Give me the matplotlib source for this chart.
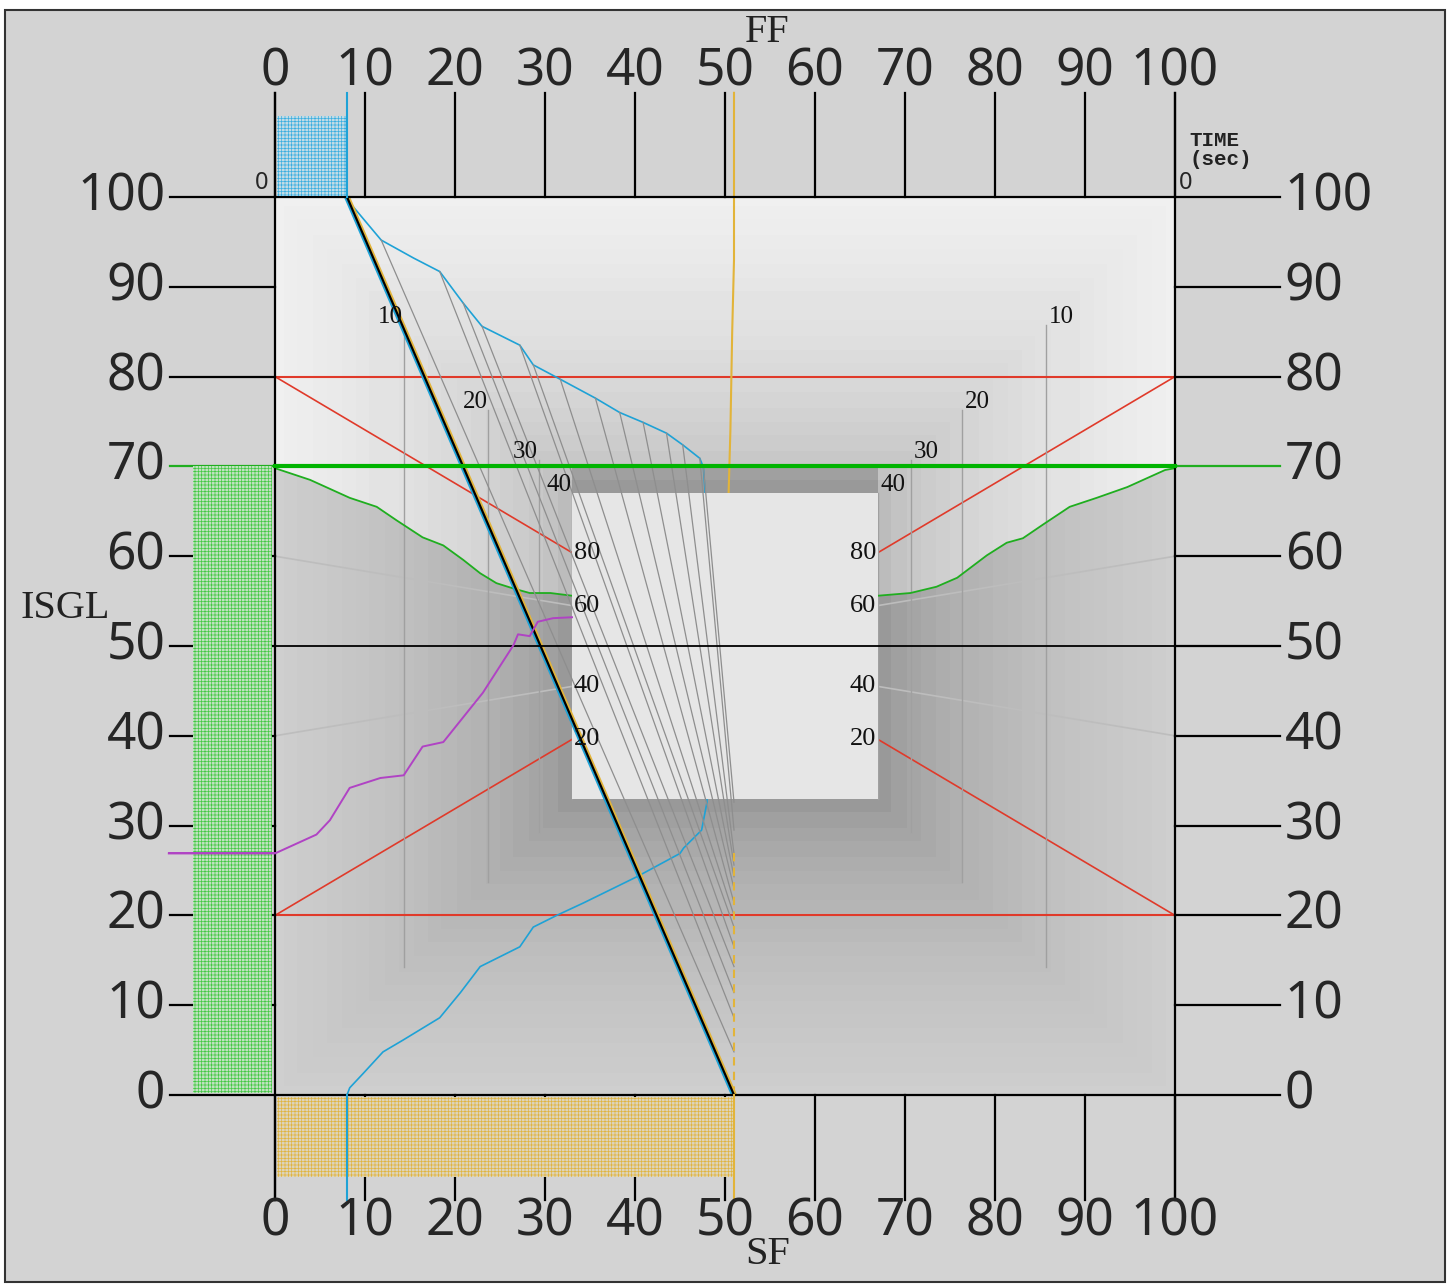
import numpy as np
import matplotlib.pyplot as plt
import matplotlib.patheffects as pe
from matplotlib.patches import Rectangle, Polygon

plt.rcParams['hatch.linewidth'] = 0.5

# axis ticks (same scale on all four sides)
ticks = list(range(0, 101, 10))

# FF trajectory (upper blue curve)
ff_x = [8, 8.7, 11.8, 15.4, 18.3, 20.9, 23.0, 27.2, 28.7, 31.7, 35.6, 38.3, 40.9, 43.5, 45.3, 47.2, 47.6, 47.8, 47.8]
ff_y = [100, 98.9, 95.2, 93.2, 91.7, 88.2, 85.6, 83.5, 81.3, 79.7, 77.6, 76.0, 74.9, 73.7, 72.4, 70.9, 69.9, 67.0, 50]

# SF trajectory (lower blue curve)
sf_x = [8, 8.3, 9.8, 12.0, 14.2, 18.3, 20.6, 22.8, 27.2, 28.7, 31.3, 34.3, 40.2, 45.0, 45.4, 47.4, 48.0, 47.8]
sf_y = [0, 0.8, 2.4, 4.8, 6.1, 8.6, 11.4, 14.3, 16.5, 18.7, 20.0, 21.4, 24.3, 26.9, 27.5, 29.5, 32.6, 50]

# grey iso lines: from FF curve point down to the SF end line
iso_x0 = [11.8, 18.3, 20.9, 23.0, 27.2, 28.7, 31.7, 35.6, 38.3, 40.9, 43.5, 45.3, 47.2, 47.6]
iso_y0 = [95.2, 91.7, 88.2, 85.6, 83.5, 81.3, 79.7, 77.6, 76.0, 74.9, 73.7, 72.4, 70.9, 69.9]
iso_y1 = [4.8, 8.6, 11.4, 14.3, 16.5, 18.7, 20.0, 21.4, 23.0, 24.3, 25.6, 26.9, 29.5, 32.6]

# start / end values
ff_start = 8
sf_end = 51
isgl_start = 70
isgl_mid = 50

# yellow FF marker drifting down to the box
yel_x = [51, 51, 50.8, 50.6, 50.4]
yel_y = [111.6, 93, 85, 74, 67]

# green ISGL curve (left and right halves)
green_lx = [0, 3.9, 8.3, 11.3, 13.5, 16.4, 18.7, 20.9, 22.8, 24.6, 26.5, 28.3, 30.6, 33]
green_ly = [69.8, 68.5, 66.5, 65.5, 64, 62.1, 61.2, 59.6, 58.1, 57, 56.4, 55.9, 55.9, 55.6]
green_rx = [67, 70.6, 73.5, 75.8, 79.1, 81.3, 83.1, 85.3, 88.3, 91.3, 94.7, 98.9, 100]
green_ry = [55.6, 55.9, 56.6, 57.6, 60.1, 61.5, 62, 63.5, 65.5, 66.5, 67.7, 69.6, 69.8]

# magenta curve
mag_x = [-11.8, 0, 4.6, 6.1, 8.3, 11.7, 14.3, 16.4, 18.7, 23.1, 26.5, 27, 28.3, 29.2, 30.9, 33]
mag_y = [26.9, 26.9, 29, 30.6, 34.2, 35.3, 35.6, 38.8, 39.3, 44.8, 50.1, 51.3, 51.1, 52.7, 53.1, 53.2]

# converging target lines
fan_levels = [80, 60, 40, 20]
fan_inner = [60.4, 54.5, 45.5, 39.6]
fan_colors = ['#e03a2a', '#bdbdbd', '#bdbdbd', '#e03a2a']

# time markers
time_labels = ['10', '20', '30', '40']
time_dist = [14.3, 23.7, 29.3, 33]

box_lo, box_hi = 33, 67

blue = '#1ea2d6'
yellow = '#e2b43a'
green = '#1fae1f'
red = '#e03a2a'
magenta = '#b043c4'

big_font = dict(family=['Noto Sans', 'DejaVu Sans'], fontstretch='extra-condensed', fontweight='light',
                fontsize=37, color='#262626')
serif_font = ['Liberation Serif', 'DejaVu Serif']

fig = plt.figure(figsize=(14.53, 12.84), dpi=100)
fig.patch.set_facecolor('white')
ax = fig.add_axes([0, 0, 1, 1])
ax.set_xlim(-275 / 9, 1178 / 9)
ax.set_ylim(-189 / 8.98, 1095 / 8.98)
ax.axis('off')

# outer grey panel
ax.add_patch(Rectangle((5 / 1453, 2 / 1284), 1440 / 1453, 1272 / 1284, transform=ax.transAxes,
                       facecolor='#d3d3d3', edgecolor='#333333', lw=1.5, zorder=0))

# shaded background, banded by distance to the centre box
res = 0.25
g = np.arange(0, 100, res) + res / 2
X, Y = np.meshgrid(g, g)
ddx = np.maximum(np.maximum(box_lo - X, X - box_hi), 0)
ddy = np.maximum(np.maximum(box_lo - Y, Y - box_hi), 0)
dist = np.maximum(ddx, ddy)
dist = (np.floor(dist / 1.6) + 0.5) * 1.6 / 33
dark = 0.56 + 0.25 * np.sqrt(dist)
light = 0.70 + 0.24 * np.sqrt(dist)
ax.imshow(dark, cmap='gray', vmin=0, vmax=1, origin='lower', extent=[0, 100, 0, 100],
          aspect='auto', interpolation='nearest', zorder=1)
light_poly = [(0, 100)] + list(zip(green_lx, green_ly)) + [(box_lo, isgl_start), (box_hi, isgl_start)] \
    + list(zip(green_rx, green_ry)) + [(100, 100)]
clip = Polygon(light_poly, closed=True, transform=ax.transData, facecolor='none', edgecolor='none')
ax.add_patch(clip)
im = ax.imshow(light, cmap='gray', vmin=0, vmax=1, origin='lower', extent=[0, 100, 0, 100],
               aspect='auto', interpolation='nearest', zorder=1.1)
im.set_clip_path(clip)

# converging lines on both sides
for lev, inner, c in zip(fan_levels, fan_inner, fan_colors):
    ax.plot([0, box_lo], [lev, inner], color=c, lw=1.2, zorder=2)
    ax.plot([100, box_hi], [lev, inner], color=c, lw=1.2, zorder=2)
    ax.text(box_lo + 0.2, inner, str(lev), ha='left', va='center', fontsize=19,
            family=serif_font, color='#111111', zorder=6)
    ax.text(box_hi - 0.2, inner, str(lev), ha='right', va='center', fontsize=19,
            family=serif_font, color='#111111', zorder=6)

# time markers
for lab, dd in zip(time_labels, time_dist):
    for xx, ha, off in [(dd, 'right', -0.1), (100 - dd, 'left', 0.3)]:
        ax.plot([xx, xx], [dd, 100 - dd], color='#a0a0a0', lw=1.0, zorder=2)
        ax.text(xx + off, 100 - dd + 0.9, lab, ha=ha, va='center', fontsize=18,
                family=serif_font, color='#111111', zorder=6)

ax.plot([0, 100], [80, 80], color=red, lw=1.5, zorder=2)
ax.plot([0, 100], [20, 20], color=red, lw=1.5, zorder=2)
ax.plot(green_lx, green_ly, color=green, lw=1.3, zorder=2)
ax.plot(green_rx, green_ry, color=green, lw=1.3, zorder=2)
ax.plot(mag_x, mag_y, color=magenta, lw=1.4, zorder=5.5)
ax.plot(ff_x, ff_y, color=blue, lw=1.2, zorder=2.2)
ax.plot(sf_x, sf_y, color=blue, lw=1.2, zorder=2.2)
ax.plot(yel_x, yel_y, color=yellow, lw=1.5, zorder=2.2)

# centre box
ax.add_patch(Rectangle((box_lo, box_lo), box_hi - box_lo, box_hi - box_lo,
                       facecolor='#e6e6e6', edgecolor='none', zorder=3))

# iso lines and main FF->SF diagonal
for x0, y0, y1 in zip(iso_x0, iso_y0, iso_y1):
    ax.plot([x0, sf_end], [y0, y1], color='#8e8e8e', lw=0.9, zorder=4)
ax.plot([sf_end, sf_end], [iso_y1[-3], 0], color=yellow, lw=1.5, ls=(0, (4, 3)), zorder=4.1)
ax.plot([ff_start, sf_end], [100, 0], color='black', lw=1.6, zorder=4.5,
        path_effects=[pe.Stroke(offset=(-1.4, 0), linewidth=1.6, foreground=blue),
                      pe.Stroke(offset=(1.4, 0), linewidth=1.6, foreground=yellow),
                      pe.Normal()])

# frame lines and ticks
lw_ax = 1.6
for t in ticks:
    ax.plot([t, t], [100, 111.6], color='black', lw=lw_ax, zorder=5)
    ax.plot([t, t], [-11.7, 0], color='black', lw=lw_ax, zorder=5)
    ax.text(t, 113.9, str(t), ha='center', va='center', zorder=6, **big_font)
    ax.text(t, -14.1, str(t), ha='center', va='center', zorder=6, **big_font)
    tc = green if t == isgl_start else 'black'
    ax.plot([-11.7, 0], [t, t], color=tc, lw=lw_ax, zorder=5)
    ax.plot([100, 111.7], [t, t], color=tc, lw=lw_ax, zorder=5)
    ax.text(-12.2, t, str(t), ha='right', va='center', zorder=6, **big_font)
    ax.text(112.2, t, str(t), ha='left', va='center', zorder=6, **big_font)

ax.plot([0, 0], [-11.7, 111.6], color='black', lw=lw_ax, zorder=5)
ax.plot([100, 100], [-11.7, 111.6], color='black', lw=lw_ax, zorder=5)
ax.plot([0, 100], [100, 100], color='black', lw=lw_ax, zorder=5)
ax.plot([0, 100], [0, 0], color='black', lw=lw_ax, zorder=5)
ax.plot([-11.7, 111.7], [isgl_mid, isgl_mid], color='black', lw=1.3, zorder=4.6)
ax.plot([0, 100], [isgl_start, isgl_start], color='#00b400', lw=3, zorder=5)

# hatched bars
ax.add_patch(Rectangle((0.2, 100.1), ff_start - 0.2, 8.9, facecolor='#c2dce6', edgecolor='#3aaee0',
                       hatch='+' * 5, lw=0, zorder=5.2))
ax.add_patch(Rectangle((0.2, -9.1), sf_end - 0.2, 8.9, facecolor='#ddd5bb', edgecolor='#e0b440',
                       hatch='+' * 5, lw=0, zorder=5.2))
ax.add_patch(Rectangle((-9.1, 0.2), 8.8, isgl_start - 0.2, facecolor='#c0e2c0', edgecolor='#44c844',
                       hatch='+' * 5, lw=0, zorder=5.2))
ax.plot(mag_x[:2], mag_y[:2], color=magenta, lw=1.4, zorder=5.6)

# blue and yellow marker ticks
ax.plot([ff_start, ff_start], [100, 111.6], color=blue, lw=1.5, zorder=5.3)
ax.plot([ff_start, ff_start], [-11.7, 0], color=blue, lw=1.5, zorder=5.3)
ax.plot([sf_end, sf_end], [-11.7, 0], color=yellow, lw=1.5, zorder=5.3)

# titles
ax.text(54.7, 118.3, 'FF', ha='center', va='center', fontsize=29, family=serif_font, color='#222222')
ax.text(54.7, -17.8, 'SF', ha='center', va='center', fontsize=29, family=serif_font, color='#222222')
ax.text(-23.3, 54.2, 'ISGL', ha='center', va='center', fontsize=29, family=serif_font, color='#222222')
ax.text(101.6, 105.2, 'TIME\n(sec)', ha='left', va='center', fontsize=15, family=['Liberation Mono'],
        fontweight='bold', linespacing=1.0, color='#222222')
small_zero = dict(big_font, fontsize=17)
ax.text(-0.7, 100.2, '0', ha='right', va='bottom', **small_zero)
ax.text(100.4, 100.2, '0', ha='left', va='bottom', **small_zero)

fig.savefig('out.png', dpi=100, facecolor='white')
